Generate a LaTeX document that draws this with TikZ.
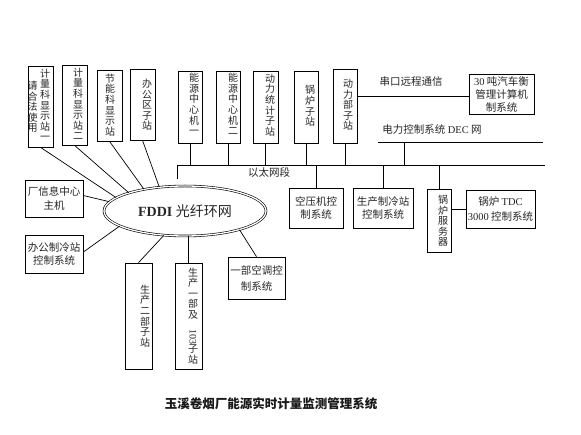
\documentclass[tikz,border=0pt]{standalone}
\usepackage{fontspec}
\setmainfont{Liberation Serif}
\newfontfamily\cjk{Noto Sans CJK SC}
\usetikzlibrary{shapes.geometric}
\begin{document}
\begin{tikzpicture}[x=1pt,y=-1pt,line width=0.7pt,
  every node/.style={text=black!85},
  bx/.style={draw, inner sep=0pt},
  vt/.style={align=center, inner sep=0pt, font=\fontsize{10}{10.6}\selectfont\cjk},
  hb/.style={draw, align=center, inner sep=0pt, font=\fontsize{10.5}{13.5}\selectfont\cjk},
  lbl/.style={inner sep=0pt, font=\fontsize{10.5}{12}\selectfont\cjk}]
\fill[white] (0,0) rectangle (581,435);
\useasboundingbox (0,0) rectangle (581,435);

% top vertical boxes
\node[bx, minimum width=25pt, minimum height=81pt] (b1) at (40.5,106.5) {};
\node[vt] (t1) at (45,105) {计\\量\\科\\显\\示\\站\\一};
\node[vt] (t1b) at (32.5,107) {请\\合\\法\\使\\用};
\node[bx, minimum width=25pt, minimum height=80pt] (b2) at (74.5,105) {};
\node[vt] (t2) at (78,104) {计\\量\\科\\显\\示\\站\\二};
\node[bx, minimum width=25pt, minimum height=71pt] (b3) at (109.5,105.5) {};
\node[vt] (t3) at (110,105) {节\\能\\科\\显\\示\\站};
\node[bx, minimum width=25pt, minimum height=71pt] (b4) at (142.5,104.5) {};
\node[vt] (t4) at (147,105) {办\\公\\区\\子\\站};
\node[bx, minimum width=24pt, minimum height=72pt] (b5) at (190,107) {};
\node[vt] (t5) at (194,104) {能\\源\\中\\心\\机\\一};
\node[bx, minimum width=24pt, minimum height=72pt] (b6) at (228,107) {};
\node[vt] (t6) at (233,104) {能\\源\\中\\心\\机\\二};
\node[bx, minimum width=25pt, minimum height=72pt] (b7) at (265.5,107) {};
\node[vt] (t7) at (270,105) {动\\力\\统\\计\\子\\站};
\node[bx, minimum width=24pt, minimum height=72pt] (b8) at (306,107) {};
\node[vt] (t8) at (310,106) {锅\\炉\\子\\站};
\node[bx, minimum width=24pt, minimum height=74pt] (b9) at (345,106) {};
\node[vt] (t9) at (348,105) {动\\力\\部\\子\\站};

% 30 t box
\node[hb, minimum width=65pt, minimum height=40pt, font=\fontsize{10.5}{13}\selectfont\cjk] (bw) at (501.5,94) {{\rmfamily 30} 吨汽车衡\\管理计算机\\制系统};

% left boxes
\node[hb, minimum width=58pt, minimum height=37pt] (bi) at (54,198.5) {厂信息中心\\主机};
\node[hb, minimum width=58pt, minimum height=38pt] (bo) at (54,254) {办公制冷站\\控制系统};

% bottom boxes
\node[bx, minimum width=27pt, minimum height=106pt] (bs2) at (138.5,316) {};
\node[vt] (ts2) at (145,316) {生\\产\\二\\部\\子\\站};
\node[bx, minimum width=27pt, minimum height=106pt] (bs1) at (188.5,316) {};
\node[vt] (ts1) at (193,316) {生\\产\\一\\部\\及\\\rotatebox{-90}{\rmfamily 103}\\子\\站};
\node[hb, minimum width=57pt, minimum height=42pt, font=\fontsize{10.5}{16}\selectfont\cjk] (ba) at (256.5,278) {一部空调控\\制系统};

% right boxes
\node[hb, minimum width=54pt, minimum height=40pt] (bk) at (316,208) {空压机控\\制系统};
\node[hb, minimum width=60pt, minimum height=40pt] (bp) at (383,208) {生产制冷站\\控制系统};
\node[bx, minimum width=24pt, minimum height=63pt] (bg) at (439,220.5) {};
\node[vt] (tg) at (443,221) {锅\\炉\\服\\务\\器};
\node[hb, minimum width=69pt, minimum height=38pt, font=\fontsize{10.5}{15}\selectfont\cjk] (bt) at (500.5,209) {锅炉 {\rmfamily TDC}\\{\rmfamily 3000} 控制系统};

% ellipse
\node[draw, ellipse, double, double distance=1.3pt, line width=0.6pt,
  minimum width=162pt, minimum height=50pt, inner sep=0pt,
  font=\fontsize{14}{16}\selectfont] (ell) at (185,211)
  {{\rmfamily\bfseries FDDI} {\cjk 光纤环网}};

% connectors to ellipse
\draw (b1.south) -- (ell.169);
\draw (b2.south) -- (ell.162);
\draw (b3.south) -- (ell.152);
\draw (b4.south) -- (ell.137);
\draw ([yshift=3pt]bi.east) -- (ell.173);
\draw ([yshift=2pt]bo.east) -- (ell.193);
\draw (bs2.north) -- (ell.229);
\draw (bs1.north) -- (bs1.north |- ell.south);
\draw (ba.north) -- (ell.341);

% ethernet segment
\coordinate (ethL) at (177,165);
\coordinate (ethR) at (545,165);
\coordinate (ethE) at (177,179);
\draw (ethE) -- (ethL) -- (ethR);
\foreach \b in {b5,b6,b7,b8,b9}{\draw (\b.south) -- (\b.south |- ethL);}
\foreach \b in {bk,bp,bg}{\draw (\b.north) -- (\b.north |- ethL);}
\node[lbl] (leth) at (269,173) {以太网段};

% DEC net
\coordinate (decL) at (378,142);
\coordinate (decR) at (543,142);
\coordinate (decJ) at (404,142);
\draw (decL) -- (decR);
\draw (decJ) -- (decJ |- ethL);
\node[lbl] (ldec) at (432,130) {电力控制系统 {\rmfamily DEC} 网};

% serial
\draw ([yshift=-2pt]bw.west) -- ([yshift=-2pt]bw.west -| b9.east);
\node[lbl] (lser) at (411,82) {串口远程通信};

% boiler server to TDC
\draw (bt.west) -- (bt.west -| bg.east);

% title
\node[inner sep=0pt, font=\fontsize{12.5}{14}\selectfont\cjk\bfseries, text=black!90] (title) at (271,404) {玉溪卷烟厂能源实时计量监测管理系统};
\end{tikzpicture}
\end{document}
